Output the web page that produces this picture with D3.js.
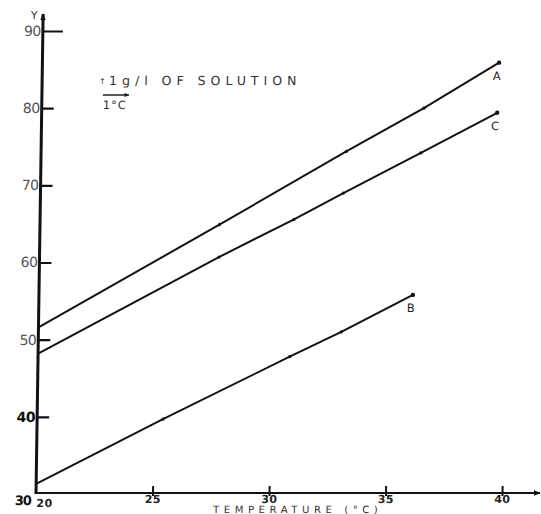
<!DOCTYPE html>
<html>
<head>
<meta charset="utf-8">
<script src="https://cdn.jsdelivr.net/npm/d3@7"></script>
<style>
  html, body { margin: 0; padding: 0; background: #fff; }
  svg { display: block; }
  text { font-family: "DejaVu Sans", sans-serif; }
</style>
</head>
<body>
<script>
// Temperature (°C) on x, concentration y on the vertical axis
const xTicks = [20, 25, 30, 35, 40];
const yTicks = [30, 40, 50, 60, 70, 80, 90];
const seriesNames = ["A", "C", "B"];

// measured points for each solution: [temperature, y]
const seriesA = [[20, 51.6], [27.7, 64.9], [33.1, 74.4], [36.4, 80.0], [39.6, 85.9]];
const seriesC = [[20, 48.2], [27.7, 60.7], [30.9, 65.6], [33.0, 69.0], [36.3, 74.2], [39.55, 79.4]];
const seriesB = [[20, 31.3], [25.4, 39.7], [30.8, 47.8], [33.0, 51.0], [36.05, 55.8]];

const W = 541, H = 514;
const svg = d3.select("body").append("svg").attr("width", W).attr("height", H);

const x = d3.scaleLinear().domain([20, 40]).range([36, 502]);
const y = d3.scaleLinear().domain([30, 90]).range([494, 31]);

// the sheet is drawn with a slight lean to the vertical axis
const g = svg.append("g")
  .attr("transform", `translate(0,${y(30)}) skewX(-0.85) translate(0,${-y(30)})`);

// arrow heads
const defs = svg.append("defs");
defs.append("marker").attr("id", "arr").attr("viewBox", "0 0 10 10")
  .attr("refX", 9).attr("refY", 5).attr("markerWidth", 7).attr("markerHeight", 7)
  .attr("markerUnits", "userSpaceOnUse").attr("orient", "auto")
  .append("path").attr("d", "M0,1 L10,5 L0,9 Z").attr("fill", "#111");
defs.append("marker").attr("id", "arrS").attr("viewBox", "0 0 10 10")
  .attr("refX", 9).attr("refY", 5).attr("markerWidth", 5).attr("markerHeight", 5)
  .attr("markerUnits", "userSpaceOnUse").attr("orient", "auto")
  .append("path").attr("d", "M0,1 L10,5 L0,9 Z").attr("fill", "#222");

// axis lines
g.append("line").attr("x1", x(20)).attr("y1", y(30)).attr("x2", x(20)).attr("y2", 14)
  .attr("stroke", "#111").attr("stroke-width", 3).attr("marker-end", "url(#arr)");
g.append("line").attr("x1", x(20)).attr("y1", y(30) - 1).attr("x2", 540).attr("y2", y(30) - 1)
  .attr("stroke", "#111").attr("stroke-width", 1.8).attr("marker-end", "url(#arr)");

// y axis ticks (inward) with labels on the left
const yAxis = d3.axisLeft(y).tickValues(yTicks.filter(v => v > 30))
  .tickSizeInner(-12).tickSizeOuter(0).tickPadding(2).tickFormat(d3.format("d"));
const ya = g.append("g").attr("transform", `translate(${x(20)},0)`).call(yAxis);
ya.select(".domain").remove();
ya.selectAll(".tick line").attr("stroke", "#111").attr("stroke-width", 2.2);
ya.selectAll(".tick text")
  .attr("font-size", 14).attr("fill", d => d === 40 ? "#111" : "#555")
  .attr("font-weight", d => d === 40 ? "bold" : "normal")
  .attr("letter-spacing", -0.5);
ya.selectAll(".tick").filter(d => d === 90).select("line").attr("x2", 20);

// bottom-left origin label
g.append("text").attr("x", x(20) - 5).attr("y", y(30) + 11).attr("text-anchor", "end")
  .attr("font-size", 13).attr("font-weight", "bold").attr("fill", "#111")
  .attr("letter-spacing", -1).text(yTicks[0]);

// x axis ticks (crossing upward) with labels below
const xAxis = d3.axisBottom(x).tickValues(xTicks)
  .tickSizeInner(-8).tickSizeOuter(0).tickPadding(0).tickFormat(d3.format("d"));
const xa = g.append("g").attr("transform", `translate(0,${y(30)})`).call(xAxis);
xa.select(".domain").remove();
xa.selectAll(".tick line").attr("stroke", "#111").attr("stroke-width", 2).attr("y2", -8).attr("y1", 2);
xa.selectAll(".tick").filter(d => d === 20).select("line").remove();
xa.selectAll(".tick text")
  .attr("font-size", 11).attr("font-weight", "bold").attr("fill", "#222")
  .attr("y", 8.5).attr("dy", 0).attr("letter-spacing", 0.5);
xa.selectAll(".tick").filter(d => d === 20).select("text")
  .attr("text-anchor", "start").attr("x", 0).attr("y", 13);

// axis titles
g.append("text").attr("x", 27).attr("y", 19).attr("text-anchor", "middle")
  .attr("font-size", 11).attr("fill", "#333").text("Y");
g.append("text").attr("x", 298).attr("y", 513).attr("text-anchor", "middle")
  .attr("font-size", 10).attr("fill", "#333").attr("letter-spacing", 4.6)
  .text("TEMPERATURE (°C)");

// unit note
g.append("text").attr("x", 93).attr("y", 84).attr("font-size", 8).attr("fill", "#333").text("↑");
g.append("text").attr("x", 103).attr("y", 85).attr("font-size", 12.5).attr("fill", "#333")
  .attr("letter-spacing", 5).text("1g/l OF SOLUTION");
g.append("text").attr("x", 97).attr("y", 109).attr("font-size", 11.5).attr("fill", "#333")
  .attr("letter-spacing", 1).text("1°C");
g.append("line").attr("x1", 97).attr("y1", 95).attr("x2", 123).attr("y2", 95)
  .attr("stroke", "#222").attr("stroke-width", 1.4).attr("marker-end", "url(#arrS)");

// lines
const line = d3.line().x(d => x(d[0])).y(d => y(d[1]));
const data = [seriesA, seriesC, seriesB];
data.forEach((pts, i) => {
  g.append("path").attr("d", line(pts)).attr("fill", "none")
    .attr("stroke", "#111").attr("stroke-width", 2);
  g.selectAll(null).data(pts.slice(1)).enter().append("circle")
    .attr("cx", d => x(d[0])).attr("cy", d => y(d[1]))
    .attr("r", (d, j) => j === pts.length - 2 ? 2.2 : 1.6).attr("fill", "#111");
  const last = pts[pts.length - 1];
  g.append("text").attr("x", x(last[0]) - 6).attr("y", y(last[1]) + 17)
    .attr("font-size", 11.5).attr("fill", "#222").attr("text-anchor", "start")
    .text(seriesNames[i]);
});
</script>
</body>
</html>
